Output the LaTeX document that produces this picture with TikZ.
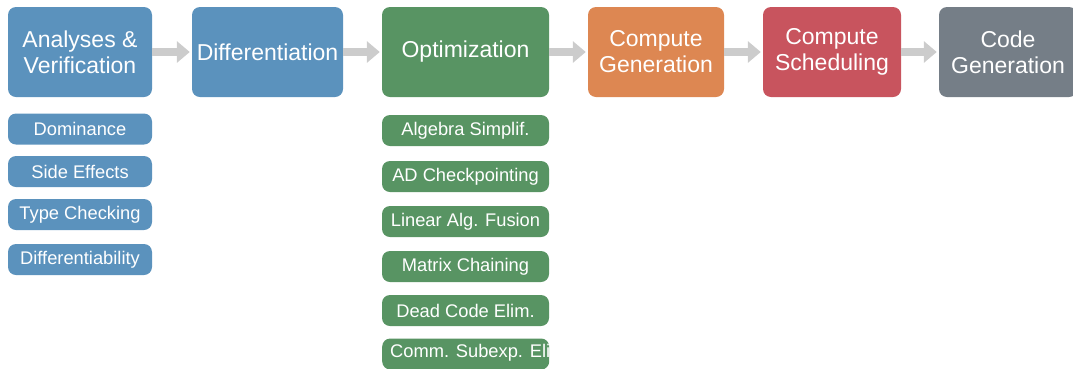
\documentclass[tikz,border=0pt]{standalone}
\usepackage{fontspec}
\setmainfont{Liberation Sans}
\usetikzlibrary{arrows.meta}
\definecolor{cblue}{HTML}{5B92BD}
\definecolor{cgreen}{HTML}{589463}
\definecolor{corange}{HTML}{DD8752}
\definecolor{cred}{HTML}{C8545E}
\definecolor{cgray}{HTML}{757E87}
\definecolor{carrow}{HTML}{CCCCCC}
\tikzset{
  x=1pt,y=1pt,
  mainbox/.style={rounded corners=8pt, inner sep=0pt, align=center, text=white,
    font=\fontsize{23}{26}\selectfont, minimum height=90pt},
  subbox/.style={rounded corners=8pt, inner sep=0pt, align=center, text=white,
    font=\fontsize{18.3}{20}\selectfont, minimum height=31pt},
  flow/.style={carrow, line width=8pt, -{Triangle[length=13pt,width=21pt]}, shorten >=2pt},
}
\begin{document}
\begin{tikzpicture}
\useasboundingbox (0,0) rectangle (1073,-368);
\clip (0,0) rectangle (1073,-368);
% main stages
\node[mainbox, fill=cblue, minimum width=144pt] (ana) at (80,-52) {Analyses \&\\Verification};
\node[mainbox, fill=cblue, minimum width=151pt] (dif) at (267.5,-52) {Differentiation};
\node[mainbox, fill=cgreen, minimum width=167pt] (opt) at (465.5,-52) {Optimization};
\node[mainbox, fill=corange, minimum width=136pt] (cg) at (656,-52) {Compute\\Generation};
\node[mainbox, fill=cred, minimum width=138pt] (cs) at (832,-52) {Compute\\Scheduling};
\node[mainbox, fill=cgray, minimum width=138pt] (code) at (1008,-52) {Code\\Generation};
% arrows
\draw[flow] (ana.east) -- (dif.west);
\draw[flow] (dif.east) -- (opt.west);
\draw[flow] (opt.east) -- (cg.west);
\draw[flow] (cg.east) -- (cs.west);
\draw[flow] (cs.east) -- (code.west);
% analyses sub boxes
\node[subbox, fill=cblue, minimum width=144pt] (s1) at (80,-129) {Dominance};
\node[subbox, fill=cblue, minimum width=144pt] (s2) at (80,-171.5) {Side Effects};
\node[subbox, fill=cblue, minimum width=144pt] (s3) at (80,-214.5) {Type Checking};
\node[subbox, fill=cblue, minimum width=144pt] (s4) at (80,-259.5) {Differentiability};
% optimization sub boxes
\node[subbox, fill=cgreen, minimum width=167pt] (o1) at (465.5,-130.5) {Algebra Simplif.};
\node[subbox, fill=cgreen, minimum width=167pt] (o2) at (465.5,-176.5) {AD Checkpointing};
\node[subbox, fill=cgreen, minimum width=167pt] (o3) at (465.5,-221.5) {Linear Alg. Fusion};
\node[subbox, fill=cgreen, minimum width=167pt] (o4) at (465.5,-266.5) {Matrix Chaining};
\node[subbox, fill=cgreen, minimum width=167pt] (o5) at (465.5,-310.5) {Dead Code Elim.};
\begin{scope}
\clip (382,-330) rectangle (549,-380);
\node[subbox, fill=cgreen, minimum width=167pt, anchor=west] (o6box) at (382,-354) {};
\node[subbox, text=white, anchor=west] (o6) at (390,-353) {Comm. Subexp. Elim.};
\end{scope}
\end{tikzpicture}
\end{document}
